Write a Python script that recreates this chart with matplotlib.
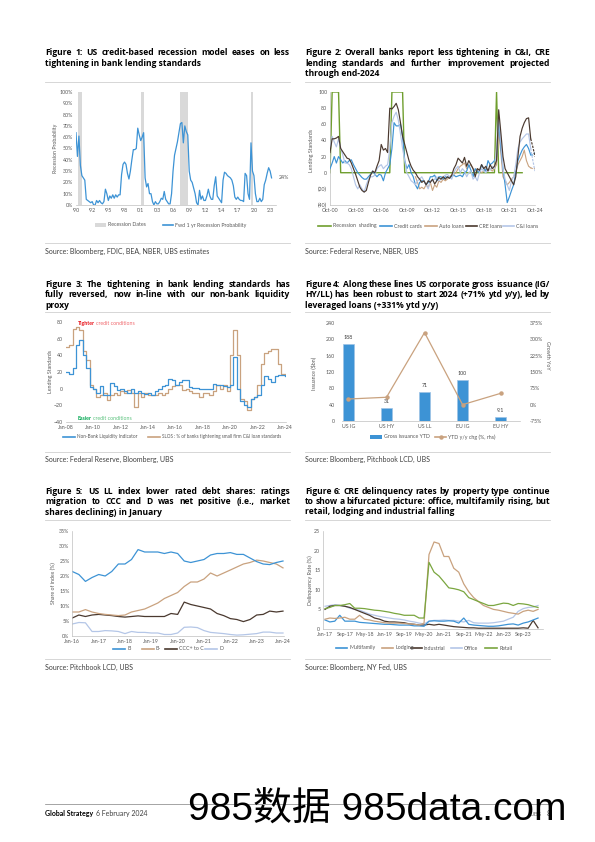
import numpy as np
import pandas as pd
import matplotlib
matplotlib.use('Agg')
import matplotlib.pyplot as plt
import matplotlib.dates as mdates
from matplotlib.lines import Line2D
from matplotlib.patches import Rectangle
from matplotlib.ticker import FuncFormatter

plt.rcParams['font.family'] = ['Lato', 'Noto Sans CJK SC', 'DejaVu Sans']

# ------------------------------------------------------------------ data
# Figure 1: quarterly recession probability (%) from 1990Q1
rec_prob = [
    64, 43, 61, 35, 26, 24, 22, 5, 4, 3, 2, 3, 0, 0, 4, 2, 4, 2, 1, 3,
    14, 10, 4, 8, 6, 9, 6, 9, 7, 9, 9, 27, 36, 38, 36, 28, 23, 30, 40, 49,
    49, 50, 68, 62, 57, 60, 64, 24, 16, 19, 10, 10, 3, 0, 3, 1, 1, 3, 6, 5,
    12, 5, 3, 1, 1, 10, 30, 44, 50, 56, 64, 72, 73, 55, 70, 65, 62, 30, 22, 20,
    15, 10, 2, 0, 13, 5, 8, 4, 4, 8, 14, 8, 5, 5, 17, 25, 8, 6, 4, 2,
    22, 29, 28, 26, 25, 24, 22, 17, 7, 5, 7, 5, 4, 4, 3, 28, 26, 10, 5, 55,
    30, 26, 10, 3, 3, 6, 3, 5, 18, 22, 28, 33, 30, 24]
recession_periods = [('1990-06-01', '1991-01-01'), ('2001-01-15', '2001-08-01'),
                     ('2007-09-01', '2009-02-01'), ('2019-10-01', '2020-03-01')]
rec_ticks_labels = ["'90", "'92", "'95", "'98", "'01", "'03", "'06", "'09", "'12",
                    "'14", "'17", "'20", "'23"]

# Figure 2: quarterly from Oct-00 (net % of banks tightening)
recession_shading = [
    0, 100, 100, 100, 100, 0, 0, 0, 0, 0, 0, 0, 0, 0, 0, 0, 0, 0, 0, 0,
    0, 0, 0, 0, 0, 0, 0, 0, 0, 100, 100, 100, 100, 100, 100, 0, 0, 0, 0, 0,
    0, 0, 0, 0, 0, 0, 0, 0, 0, 0, 0, 0, 0, 0, 0, 0, 0, 0, 0, 0,
    0, 0, 0, 0, 0, 0, 0, 0, 0, 0, 0, 0, 0, 0, 0, 0, 0, 0, 100, 0,
    0, 0, 0, 0, 0, 0, 0, 0, 0, 0, 0]
credit_cards = [
    5, 12, 20, 12, 20, 16, 12, 15, 12, 15, 16, 10, 5, 0, -3, -6, -8, -8, -5, -2,
    2, -2, -5, -2, -3, -10, 0, 5, 10, 30, 62, 58, 58, 60, 45, 15, 5, 10, 0, -5,
    -15, -20, -12, -10, -10, -15, -12, -5, -5, -3, -10, -5, -5, -8, -5, -6, -5, -5, -3, -5,
    -4, -3, -5, 0, 2, 10, 3, -5, 5, 2, 0, 10, 5, 2, 15, 10, 12, 15, 20, 65,
    30, 5, -15, -37, -30, -22, -15, 0, 15, 22, 28, 32, 35, 30, 22, 22, 25]
cre_loans = [
    25, 42, 42, 43, 45, 30, 26, 22, 18, 17, 12, 5, -2, -10, -18, -22, -24, -22, -12, -3,
    2, 0, 8, 15, 35, 28, 30, 25, 80, 79, 82, 86, 78, 62, 45, 35, 25, 15, 8, 3,
    0, -5, -8, -12, -10, -15, -10, -12, -8, -14, -10, -6, -8, -5, -8, -5, -7, -3, 5, 10,
    18, 15, 12, 19, 8, 15, 10, 5, -5, 5, 3, 10, 5, 8, 2, 10, 5, 8, 15, 78,
    50, 20, 5, 0, -5, -10, -15, -5, 20, 45, 55, 62, 67, 68, 42, 32, 20]
ci_loans = [
    30, 45, 38, 32, 42, 30, 22, 12, 12, 10, 5, -5, -15, -20, -15, -20, -24, -15, -8, -5,
    -5, -3, 5, 8, 10, 5, 8, 10, 30, 62, 70, 75, 65, 48, 30, 15, 0, -5, -10, -12,
    -15, -10, -8, -5, -10, -15, -20, -10, -10, -8, -5, -10, -8, -5, -3, -2, -5, -8, 0, 5,
    8, 0, 5, 2, -5, 0, 2, -8, -5, -10, 0, 5, 2, 0, 5, 3, 8, 5, 30, 72,
    40, 5, -8, -15, -22, -10, -5, 10, 30, 38, 42, 45, 48, 48, 30, 15, 2]
auto_loans = [  # from Oct-10
    -5, -12, -20, -18, -20, -15, -18, -12, -22, -15, -18, -10, -12, -8, -10, -8,
    -5, -3, -2, 0, 5, 8, 10, 12, 5, 8, 10, 5, 2, 5, 3, 0, 2, 5, 3, 5,
    2, 5, 10, 50, 25, -5, -10, -15, -12, -8, -5, 0, 10, 15, 20, 28, 15, 8, 6, 5, 5]

# Figure 3: quarterly from Jan-08
nonbank = [
    20, 18, 25, 52, 58, 40, 25, 2, 0, -5, 3, -8, -8, 7, 3, -2, 0, -3, -5, 0,
    -5, -3, -5, -6, -5, -8, -3, 0, 3, 5, 12, 10, 5, 8, 10, 10, 2, 1, 1, 0,
    0, 0, 0, 6, 5, 5, 3, 2, 5, 38, 0, -15, -20, -22, -12, -10, -8, 5, 15, 12,
    8, 15, 17, 17, 15]
slos = [
    50, 52, 72, 74, 70, 45, 35, 5, 0, -10, -8, -5, -13, -8, -5, -8, -3, -5, -2, -5,
    -22, -5, -10, -5, -8, -8, -7, -5, -8, -5, 0, 3, 5, 5, -2, 0, -3, -5, -5, -10,
    -5, -5, -8, -3, 5, 0, 5, -3, 40, 70, 40, -12, -15, -25, -12, -10, 5, 30, 43, 45,
    48, 48, 30, 18, 18]

# Figure 4
issuance_cats = ['US IG', 'US HY', 'US LL', 'EU IG', 'EU HY']
issuance_bn = [188, 31, 71, 100, 9.1]
yoy_chg = [26, 34, 331, 0, 52]

# Figure 5: quarterly from Jan-16, share of index (%)
share_b = [21.5, 20.5, 18.2, 19.5, 20.5, 20.0, 21.5, 24.0, 24.0, 25.5, 28.8, 28.0,
           28.0, 28.0, 27.5, 28.0, 27.5, 25.0, 24.5, 25.0, 25.5, 27.0, 27.5, 27.5,
           27.8, 27.2, 27.2, 26.0, 24.8, 24.0, 23.8, 24.5, 25.0]
share_bm = [8.0, 8.0, 8.8, 8.0, 7.5, 7.2, 7.0, 6.8, 7.0, 8.0, 8.5, 9.0,
            10.0, 11.0, 12.5, 13.5, 14.5, 16.5, 18.0, 18.0, 19.0, 21.0, 20.0, 21.0,
            22.0, 23.0, 24.0, 24.5, 25.3, 25.0, 24.5, 24.0, 22.7]
share_ccc = [6.0, 7.0, 6.5, 7.0, 7.2, 7.0, 6.8, 6.5, 6.3, 6.5, 6.7, 6.5,
             6.5, 6.5, 6.5, 7.5, 7.2, 11.3, 10.5, 10.0, 9.5, 9.0, 7.5, 6.8,
             5.8, 5.5, 4.8, 5.5, 7.0, 7.2, 8.3, 8.0, 8.3]
share_d = [4.0, 4.5, 4.4, 1.5, 1.5, 1.8, 1.7, 1.5, 0.8, 1.5, 1.2, 1.2,
           1.0, 1.0, 0.5, 0.5, 1.0, 2.9, 3.0, 2.8, 1.8, 1.2, 1.0, 0.8,
           0.5, 0.3, 0.4, 0.6, 0.8, 1.3, 1.3, 1.0, 1.0]

# Figure 6: every two months from Jan-17, delinquency rate (%)
multifamily = [2.3, 1.8, 2.0, 3.5, 2.0, 2.0, 2.0, 1.7, 1.6, 1.5, 1.4, 1.3, 1.2, 1.2, 1.1,
               1.0, 1.0, 1.0, 0.8, 0.8, 0.7, 2.0, 2.1, 2.0, 2.0, 2.1, 2.0, 1.5, 2.8, 1.2,
               1.0, 0.9, 0.8, 0.7, 0.7, 0.8, 1.0, 1.2, 1.3, 1.0, 1.5, 1.8, 2.3, 2.8]
lodging = [2.5, 2.8, 2.7, 2.8, 3.0, 2.5, 2.5, 3.5, 2.5, 2.3, 2.0, 1.8, 1.6, 1.5, 1.5,
           1.5, 1.4, 1.3, 1.2, 1.0, 1.5, 19.0, 22.2, 21.8, 18.5, 18.5, 15.5, 14.5, 11.5, 9.5,
           8.0, 7.0, 6.0, 5.5, 5.0, 4.8, 4.5, 4.2, 4.0, 3.8, 4.5, 4.8, 4.5, 5.0]
industrial = [5.0, 5.8, 6.0, 6.0, 5.8, 5.5, 5.0, 4.5, 4.0, 3.5, 2.8, 2.5, 2.0, 1.8, 1.8,
              1.7, 1.6, 1.3, 1.2, 1.0, 1.0, 1.2, 1.0, 1.2, 1.0, 0.8, 0.6, 0.5, 0.4, 0.3,
              0.3, 0.2, 0.2, 0.2, 0.2, 0.2, 0.2, 0.2, 0.2, 0.2, 0.3, 0.2, 2.2, 0.3]
office = [5.8, 6.0, 6.2, 6.0, 5.8, 5.3, 5.0, 4.8, 4.3, 3.8, 3.5, 3.2, 3.0, 2.8, 2.6,
          2.5, 2.3, 2.0, 1.8, 1.5, 1.3, 2.0, 2.2, 2.2, 2.3, 2.2, 2.2, 2.0, 1.8, 2.2,
          1.6, 1.5, 1.5, 1.5, 1.6, 1.8, 2.0, 2.5, 3.0, 4.5, 5.2, 5.5, 5.6, 6.0]
retail = [5.2, 5.5, 6.0, 6.0, 6.2, 6.5, 5.3, 5.3, 5.2, 5.0, 4.8, 4.7, 4.5, 4.3, 4.0,
          3.8, 3.5, 3.5, 3.5, 2.8, 2.8, 17.0, 14.5, 13.5, 12.0, 10.5, 10.3, 10.0, 9.5, 8.0,
          7.5, 7.0, 6.5, 6.0, 6.0, 6.3, 6.6, 6.5, 6.0, 6.5, 6.4, 6.2, 5.8, 5.5]

# ------------------------------------------------------------------ figure
W, H = 595, 842
fig = plt.figure(figsize=(W / 100, H / 100), dpi=100)
fig.patch.set_facecolor('white')
renderer = fig.canvas.get_renderer()

def fx(x):
    return x / W

def fy(y):
    return 1 - y / H

def axes_px(l, t, r, b):
    return fig.add_axes([l / W, 1 - b / H, (r - l) / W, (b - t) / H])

TXT = '#595959'
AXC = '#BFBFBF'
TICK = 3.8
LEG = 3.8
BLUE = '#3D93D5'
TAN = '#C9A27F'
DARK = '#4A392F'
LIGHT = '#B4C6E7'
GREEN = '#7AA63F'
RGREEN = '#6F9E2E'
SHADE = '#D9D9D9'
TITLE_FONT = ['Open Sans', 'DejaVu Sans']


def justified(lines, x0, x1, y0, dy, size=6.1):
    for i, line in enumerate(lines):
        y = fy(y0 + i * dy)
        words = line.split(' ')
        if i == len(lines) - 1 or len(words) == 1:
            fig.text(fx(x0), y, line, fontsize=size, fontweight='bold', family=TITLE_FONT,
                     va='baseline', ha='left', color='black')
            continue
        ts = [fig.text(0, y, w, fontsize=size, fontweight='bold', va='baseline',
                       family=TITLE_FONT, ha='left', color='black') for w in words]
        ws = [t.get_window_extent(renderer).width for t in ts]
        gap = ((x1 - x0) - sum(ws)) / (len(words) - 1)
        x = x0
        for t, w in zip(ts, ws):
            t.set_x(fx(x))
            x += w + gap


def hline(x0, x1, y, color='#D0D0D0', lw=0.6):
    fig.add_artist(Line2D([fx(x0), fx(x1)], [fy(y), fy(y)], transform=fig.transFigure,
                          color=color, lw=lw))


def source(x, y, s):
    fig.text(fx(x), fy(y), s, fontsize=5, color='#404040', va='baseline', ha='left')


def leg(x, y, kind, color, label, hl=12, marker=None, size=LEG):
    if kind == 'patch':
        fig.add_artist(Rectangle((fx(x), fy(y + 2)), hl / W, 4 / H,
                                 transform=fig.transFigure, color=color, lw=0))
    else:
        fig.add_artist(Line2D([fx(x), fx(x + hl)], [fy(y), fy(y)],
                              transform=fig.transFigure, color=color, lw=1.2))
        if marker:
            fig.add_artist(Line2D([fx(x + hl / 2)], [fy(y)], transform=fig.transFigure,
                                  color=color, marker=marker, markersize=2.2, lw=0))
    fig.text(fx(x + hl + 2), fy(y), label, fontsize=size, color=TXT, va='center', ha='left')


def ylab(x, y, s, rot=90):
    fig.text(fx(x), fy(y), s, fontsize=TICK, color=TXT, rotation=rot,
             ha='center', va='center')


def style(ax, left=False):
    for s in ['top', 'right']:
        ax.spines[s].set_visible(False)
    ax.spines['left'].set_visible(left)
    ax.spines['left'].set_color(AXC)
    ax.spines['left'].set_linewidth(0.5)
    ax.spines['bottom'].set_color(AXC)
    ax.spines['bottom'].set_linewidth(0.5)
    ax.tick_params(length=0, labelsize=TICK, colors=TXT, pad=2)
    ax.set_facecolor('none')


def date_ticks(ax, ticks, labels):
    ax.set_xticks(mdates.date2num(ticks))
    ax.set_xticklabels(labels)

# ------------------------------------------------------------------ titles
justified(["Figure 1: US credit-based recession model eases on less",
           "tightening in bank lending standards"], 45, 290, 55, 10.5)
justified(["Figure 2: Overall banks report less tightening in C&I, CRE",
           "lending standards and further improvement projected",
           "through end-2024"], 305, 550, 55, 10.5)
justified(["Figure 3: The tightening in bank lending standards has",
           "fully reversed, now in-line with our non-bank liquidity",
           "proxy"], 45, 290, 286.8, 10.5)
justified(["Figure 4: Along these lines US corporate gross issuance (IG/",
           "HY/LL) has been robust to start 2024 (+71% ytd y/y), led by",
           "leveraged loans (+331% ytd y/y)"], 305, 550, 286.8, 10.5)
justified(["Figure 5: US LL index lower rated debt shares: ratings",
           "migration to CCC and D was net positive (i.e., market",
           "shares declining) in January"], 45, 290, 493.5, 10.5)
justified(["Figure 6: CRE delinquency rates by property type continue",
           "to show a bifurcated picture: office, multifamily rising, but",
           "retail, lodging and industrial falling"], 305, 550, 493.5, 10.5)

for (x0, x1) in [(45, 290), (305, 550)]:
    for y in [82, 243, 312, 452, 520, 659]:
        hline(x0, x1, y)

source(45, 254, 'Source: Bloomberg, FDIC, BEA, NBER, UBS estimates')
source(305, 254, 'Source: Federal Reserve, NBER, UBS')
source(45, 462, 'Source: Federal Reserve, Bloomberg, UBS')
source(305, 462, 'Source: Bloomberg, Pitchbook LCD, UBS')
source(45, 670, 'Source: Pitchbook LCD, UBS')
source(305, 670, 'Source: Bloomberg, NY Fed, UBS')

# ------------------------------------------------------------------ Figure 1
ax1 = axes_px(76, 92, 276, 205)
style(ax1)
d1 = pd.date_range('1990-01-01', periods=len(rec_prob), freq='QS')
for s, e in recession_periods:
    ax1.axvspan(mdates.date2num(pd.Timestamp(s)), mdates.date2num(pd.Timestamp(e)),
                color=SHADE, lw=0, zorder=0)
p1 = np.array(rec_prob) / 100.0
ax1.plot(mdates.date2num(d1), p1, color=BLUE, lw=0.9, zorder=2)
ax1.set_ylim(0, 1)
ax1.set_yticks(np.arange(0, 1.01, 0.1))
ax1.yaxis.set_major_formatter(FuncFormatter(lambda v, p: f'{v * 100:.0f}%'))
ax1.set_xlim(mdates.date2num(pd.Timestamp('1990-01-01')), mdates.date2num(pd.Timestamp('2024-01-01')))
date_ticks(ax1, pd.date_range('1990-01-01', periods=len(rec_ticks_labels), freq='33MS'),
           rec_ticks_labels)
ax1.annotate(f'{rec_prob[-1]}%', xy=(mdates.date2num(d1[-1]), p1[-1]), xytext=(5, 0),
             textcoords='offset points', fontsize=TICK, color=TXT, va='center',
             annotation_clip=False)
ylab(55, 148, 'Recession Probability')
leg(95, 225, 'patch', SHADE, 'Recession Dates', hl=11)
leg(163, 225, 'line', BLUE, 'Fwd 1 yr Recession Probability', hl=10)

# ------------------------------------------------------------------ Figure 2
ax2 = axes_px(330, 92, 535, 205)
style(ax2, left=True)
d2 = pd.date_range('2000-10-01', periods=len(cre_loans), freq='QS')
x2 = mdates.date2num(d2)
ax2.plot(x2[:len(recession_shading)], recession_shading, color=RGREEN, lw=1.0, zorder=1)
na = len(auto_loans)
xa = x2[len(x2) - na:]
cut = len(x2) - 3
ax2.plot(xa[:na - 2], auto_loans[:na - 2], color=TAN, lw=0.8, zorder=2)
ax2.plot(xa[na - 3:], auto_loans[na - 3:], color=TAN, lw=0.8, ls=(0, (2, 1)), zorder=2)
for ser, col in [(credit_cards, BLUE), (ci_loans, LIGHT), (cre_loans, DARK)]:
    ax2.plot(x2[:cut + 1], ser[:cut + 1], color=col, lw=0.85, zorder=3)
    ax2.plot(x2[cut:], ser[cut:], color=col, lw=0.85, ls=(0, (2, 1)), zorder=3)
ax2.set_ylim(-40, 100)
ax2.set_yticks(np.arange(-40, 101, 20))
ax2.yaxis.set_major_formatter(FuncFormatter(lambda v, p: f'({abs(v):.0f})' if v < 0 else f'{v:.0f}'))
ax2.set_xlim(mdates.date2num(pd.Timestamp('2000-10-01')), mdates.date2num(pd.Timestamp('2024-10-01')))
t2 = pd.date_range('2000-10-01', periods=9, freq='36MS')
date_ticks(ax2, t2, [d.strftime('%b-%y') for d in t2])
ylab(311, 150, 'Lending Standards')
leg(318, 226, 'line', RGREEN, 'Recession  shading', hl=13)
leg(380, 226, 'line', BLUE, 'Credit cards', hl=12)
leg(425, 226, 'line', TAN, 'Auto loans', hl=12)
leg(466, 226, 'line', DARK, 'CRE loans', hl=11)
leg(503, 226, 'line', LIGHT, 'C&I loans', hl=11)

# ------------------------------------------------------------------ Figure 3
ax3 = axes_px(65.7, 322, 286, 422)
style(ax3, left=False)
d3 = mdates.date2num(pd.date_range('2008-01-01', periods=len(slos), freq='QS'))
ax3.plot(d3, slos, color=TAN, lw=0.9, drawstyle='steps-post', zorder=2)
ax3.plot(d3, nonbank, color=BLUE, lw=0.9, drawstyle='steps-post', zorder=3)
ax3.set_ylim(-40, 80)
ax3.set_yticks(np.arange(-40, 81, 20))
ax3.set_xlim(mdates.date2num(pd.Timestamp('2008-01-01')), mdates.date2num(pd.Timestamp('2024-02-01')))
t3 = pd.date_range('2008-01-01', periods=9, freq='24MS')
date_ticks(ax3, t3, [d.strftime('%b-%y') for d in t3])
ylab(50, 372, 'Lending Standards')


def two_part(x, y, a, b, c1, c2):
    t1 = fig.text(fx(x), fy(y), a, fontsize=TICK, fontweight='bold', color=c1, va='center')
    w = t1.get_window_extent(renderer).width
    fig.text(fx(x + w + 1.5), fy(y), b, fontsize=TICK, color=c2, va='center')


two_part(78, 323.5, 'Tighter', 'credit conditions', '#E8141B', '#F0696E')
two_part(78, 418, 'Easier', 'credit conditions', '#00A650', '#5CC27E')
leg(63, 436.5, 'line', BLUE, 'Non-Bank Liquidity Indicator', hl=12, size=3.4)
leg(148, 436.5, 'line', TAN, 'SLOS : % of banks tightening small firm C&I loan standards',
    hl=12, size=3.35)

# ------------------------------------------------------------------ Figure 4
ax4 = axes_px(342, 323, 520, 421)
style(ax4)
xi = np.arange(len(issuance_cats))
ax4.bar(xi, issuance_bn, width=0.31, color=BLUE, edgecolor='#9DC3E6', lw=0.5, zorder=2)
for xv, v in zip(xi, issuance_bn):
    ax4.annotate(f'{v:g}', xy=(xv, v), xytext=(0, 3), textcoords='offset points',
                 ha='center', va='bottom', fontsize=TICK, color='#404040')
ax4.set_ylim(0, 240)
ax4.set_yticks(np.arange(0, 241, 40))
ax4.set_xlim(-0.17, 4.51)
ax4.set_xticks(xi)
ax4.set_xticklabels(issuance_cats)
ax4r = ax4.twinx()
for s in ['top', 'right', 'left', 'bottom']:
    ax4r.spines[s].set_visible(False)
ax4r.plot(xi, yoy_chg, color=TAN, lw=0.9, marker='o', markersize=2.2, zorder=3)
ax4r.set_ylim(-75, 375)
ax4r.set_yticks(np.arange(-75, 376, 75))
ax4r.yaxis.set_major_formatter(FuncFormatter(lambda v, p: f'{v:.0f}%'))
ax4r.tick_params(length=0, labelsize=TICK, colors=TXT, pad=7)
ax4.tick_params(axis='y', pad=5)
ylab(313, 373, 'Issuance ($bn)')
ylab(548, 355, 'Growth YoY', rot=270)
leg(370, 437, 'patch', BLUE, 'Gross issuance YTD', hl=12)
leg(435, 437, 'line', TAN, 'YTD y/y chg (%, rhs)', hl=11, marker='o')

# ------------------------------------------------------------------ Figure 5
ax5 = axes_px(72.3, 531, 284, 636)
style(ax5, left=True)
d5 = mdates.date2num(pd.date_range('2016-01-01', periods=len(share_b), freq='QS'))
ax5.plot(d5, share_d, color=LIGHT, lw=0.9)
ax5.plot(d5, share_ccc, color=DARK, lw=0.9)
ax5.plot(d5, share_bm, color=TAN, lw=0.9)
ax5.plot(d5, share_b, color=BLUE, lw=0.9)
ax5.set_ylim(0, 35)
ax5.set_yticks(np.arange(0, 36, 5))
ax5.yaxis.set_major_formatter(FuncFormatter(lambda v, p: f'{v:.0f}%'))
ax5.set_xlim(mdates.date2num(pd.Timestamp('2016-01-01')), mdates.date2num(pd.Timestamp('2024-01-15')))
t5 = pd.date_range('2016-01-01', periods=9, freq='12MS')
date_ticks(ax5, t5, [d.strftime('%b-%y') for d in t5])
ylab(53, 583, 'Share of index (%)')
leg(113, 649, 'line', BLUE, 'B', hl=12)
leg(142, 649, 'line', TAN, 'B-', hl=12)
leg(165, 649, 'line', DARK, 'CCC+ to C', hl=12)
leg(205, 649, 'line', LIGHT, 'D', hl=12)

# ------------------------------------------------------------------ Figure 6
ax6 = axes_px(323, 531, 543, 629)
style(ax6, left=True)
d6 = mdates.date2num(pd.date_range('2017-01-01', periods=len(retail), freq='2MS'))
ax6.plot(d6, office, color=LIGHT, lw=0.9)
ax6.plot(d6, industrial, color=DARK, lw=0.9)
ax6.plot(d6, multifamily, color=BLUE, lw=0.9)
ax6.plot(d6, lodging, color=TAN, lw=0.9)
ax6.plot(d6, retail, color=GREEN, lw=0.9)
ax6.set_ylim(0, 25)
ax6.set_yticks(np.arange(0, 26, 5))
ax6.set_xlim(mdates.date2num(pd.Timestamp('2016-12-07')), mdates.date2num(pd.Timestamp('2024-05-01')))
t6 = pd.date_range('2017-01-01', periods=11, freq='8MS')
date_ticks(ax6, t6, [d.strftime('%b-%y') for d in t6])
ylab(310, 580, 'Delinquency Rate (%)')
leg(336, 648, 'line', BLUE, 'Multifamily', hl=11)
leg(382, 648, 'line', TAN, 'Lodging', hl=11)
leg(411, 648, 'line', DARK, 'Industrial', hl=11)
leg(451, 648, 'line', LIGHT, 'Office', hl=11)
leg(485, 648, 'line', GREEN, 'Retail', hl=12)

# ------------------------------------------------------------------ footer
hline(45, 550, 804, color='#808080', lw=0.5)
tg = fig.text(fx(45), fy(816), 'Global Strategy', fontsize=5, fontweight='bold',
              color='black', va='baseline')
wg = tg.get_window_extent(renderer).width
fig.text(fx(45 + wg + 3), fy(816), '6 February 2024', fontsize=5, color='#404040', va='baseline')
fig.text(fx(530), fy(816), 'UBS', fontsize=4.5, color='#808080', va='baseline')
fig.text(fx(547), fy(816), '8', fontsize=5, color='#404040', va='baseline')
fig.text(fx(188), fy(821), '985数据 985data.com', fontsize=28, color='black',
         family=['Liberation Sans', 'Noto Sans CJK SC'], va='baseline', ha='left')

fig.savefig('out.png', dpi=100, facecolor='white')
